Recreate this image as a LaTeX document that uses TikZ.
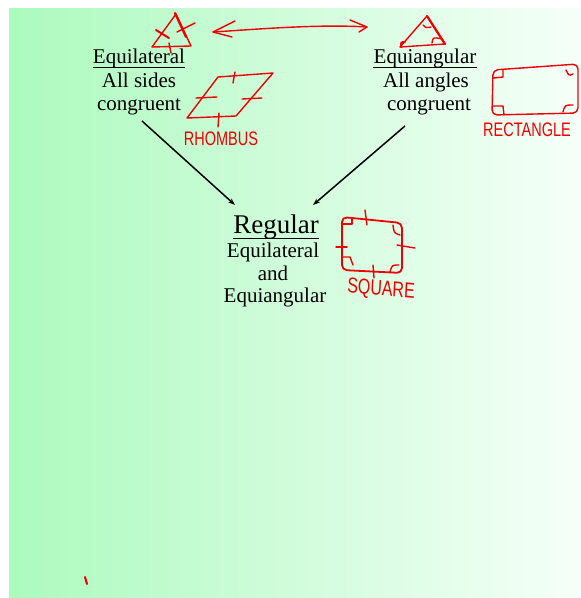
\documentclass[tikz,border=0pt]{standalone}
\usepackage{fontspec}
\setmainfont{Liberation Serif}
\newfontfamily\handfont{Liberation Sans}
\usetikzlibrary{arrows.meta}
\definecolor{bgl}{RGB}{172,250,190}
\definecolor{bgr}{RGB}{246,255,249}
\definecolor{inkred}{RGB}{240,0,0}
\begin{document}
\begin{tikzpicture}[x=1pt,y=-1pt,
  ink/.style={draw=inkred, line width=1.4pt, line cap=round, line join=round},
  lbl/.style={font=\fontsize{21}{24}\selectfont, anchor=base, inner sep=0pt},
  uline/.style={draw=black, line width=0.9pt},
  hand/.style={text=inkred, font=\handfont\fontsize{14.5}{14.5}\selectfont, inner sep=0pt, yscale=1.35},
  conn/.style={draw=black, line width=1.5pt, -{Stealth[length=7pt,width=5pt]}}]
\useasboundingbox (0,0) rectangle (581,598);
\shade[left color=bgl, right color=bgr] (9,8) rectangle (581,597);

% texts
\node[lbl] (t1) at (139,63) {Equilateral};
\node[lbl] (t2) at (139,87) {All sides};
\node[lbl] (t3) at (139,110) {congruent};
\node[lbl] (a1) at (425,63) {Equiangular};
\node[lbl] (a2) at (426,87) {All angles};
\node[lbl] (a3) at (429,110) {congruent};
\node[lbl, font=\fontsize{27}{30}\selectfont] (r1) at (276,233) {Regular};
\node[lbl] (r2) at (273,257) {Equilateral};
\node[lbl] (r3) at (273,280) {and};
\node[lbl] (r4) at (275,302) {Equiangular};
\draw[uline] ([yshift=-4.5pt]t1.base west) -- ([yshift=-4.5pt]t1.base east);
\draw[uline] ([yshift=-4.5pt]a1.base west) -- ([yshift=-4.5pt]a1.base east);
\draw[uline] ([yshift=-5.5pt]r1.base west) -- ([yshift=-5.5pt]r1.base east);

% connectors
\coordinate (s1) at (142,121);
\coordinate (e1) at (235,205);
\coordinate (s2) at (405,126);
\coordinate (e2) at (313,205);
\draw[conn] (s1) -- (e1);
\draw[conn] (s2) -- (e2);

% left triangle
\draw[ink] (176,14) -- (152,47) -- (191,46) -- cycle;
\draw[ink, line width=2.2pt] (175,13) -- (186,37);
\draw[ink, line width=2pt] (156,30) -- (169,38);
\draw[ink] (177,32) -- (195,23);
\draw[ink] (169,43) -- (171,53);

% double arrow
\draw[ink] (232,37) -- (213,32) -- (235,21);
\draw[ink] (213,32) .. controls (260,29) and (320,24) .. (367,27);
\draw[ink] (350,20) -- (367,27) -- (359,32);

% rhombus
\draw[ink] (218,77) -- (273,73) -- (236,116) -- (187,118) -- cycle;
\draw[ink] (235,72) -- (233,83);
\draw[ink] (196,98) -- (217,97);
\draw[ink] (242,99) -- (262,98);
\draw[ink] (219,113) -- (218,127);
\node[hand] (rh) at (221,139) {RHOMBUS};

% right triangle
\draw[ink] (427,16) -- (400,47) -- (445,44) -- cycle;
\draw[ink, line width=2.2pt] (427,16) -- (445,44);
\draw[ink] (423,25) .. controls (426,28) .. (431,27);
\draw[ink] (432,43) .. controls (433,37) .. (442,39);
\draw[ink, line width=2pt] (401,47) .. controls (401,42) .. (405,42);

% rectangle
\draw[ink, rounded corners=5pt] (493,70) -- (578,64) -- (578,113) -- (492,115) -- cycle;
\draw[ink] (493,78) -- (503,77) -- (503,70);
\draw[ink] (566,70) .. controls (569,76) .. (573,74);
\draw[ink] (493,106) -- (503,106) -- (504,115);
\draw[ink] (563,112) .. controls (565,105) .. (573,105);
\node[hand] (rc) at (527,130) {RECTANGLE};

% square
\draw[ink, line width=1.8pt, rounded corners=5pt] (342,217) -- (402,223) -- (402,273) -- (342,270) -- cycle;
\draw[ink] (343,224) -- (352,224) -- (352,219);
\draw[ink] (393,225) .. controls (394,233) .. (400,235);
\draw[ink] (342,257) -- (350,257) -- (353,265);
\draw[ink] (390,272) .. controls (392,265) .. (399,265);
\draw[ink] (365,210) -- (367,225);
\draw[ink] (397,245) -- (415,248);
\draw[ink] (373,265) -- (374,278);
\draw[ink] (336,247) -- (347,247);
\node[hand, font=\handfont\fontsize{16}{16}\selectfont, rotate=-4] (sq) at (381,290) {SQUARE};

% stray mark
\draw[ink, line width=2pt] (85,577) -- (87,584);
\end{tikzpicture}
\end{document}
